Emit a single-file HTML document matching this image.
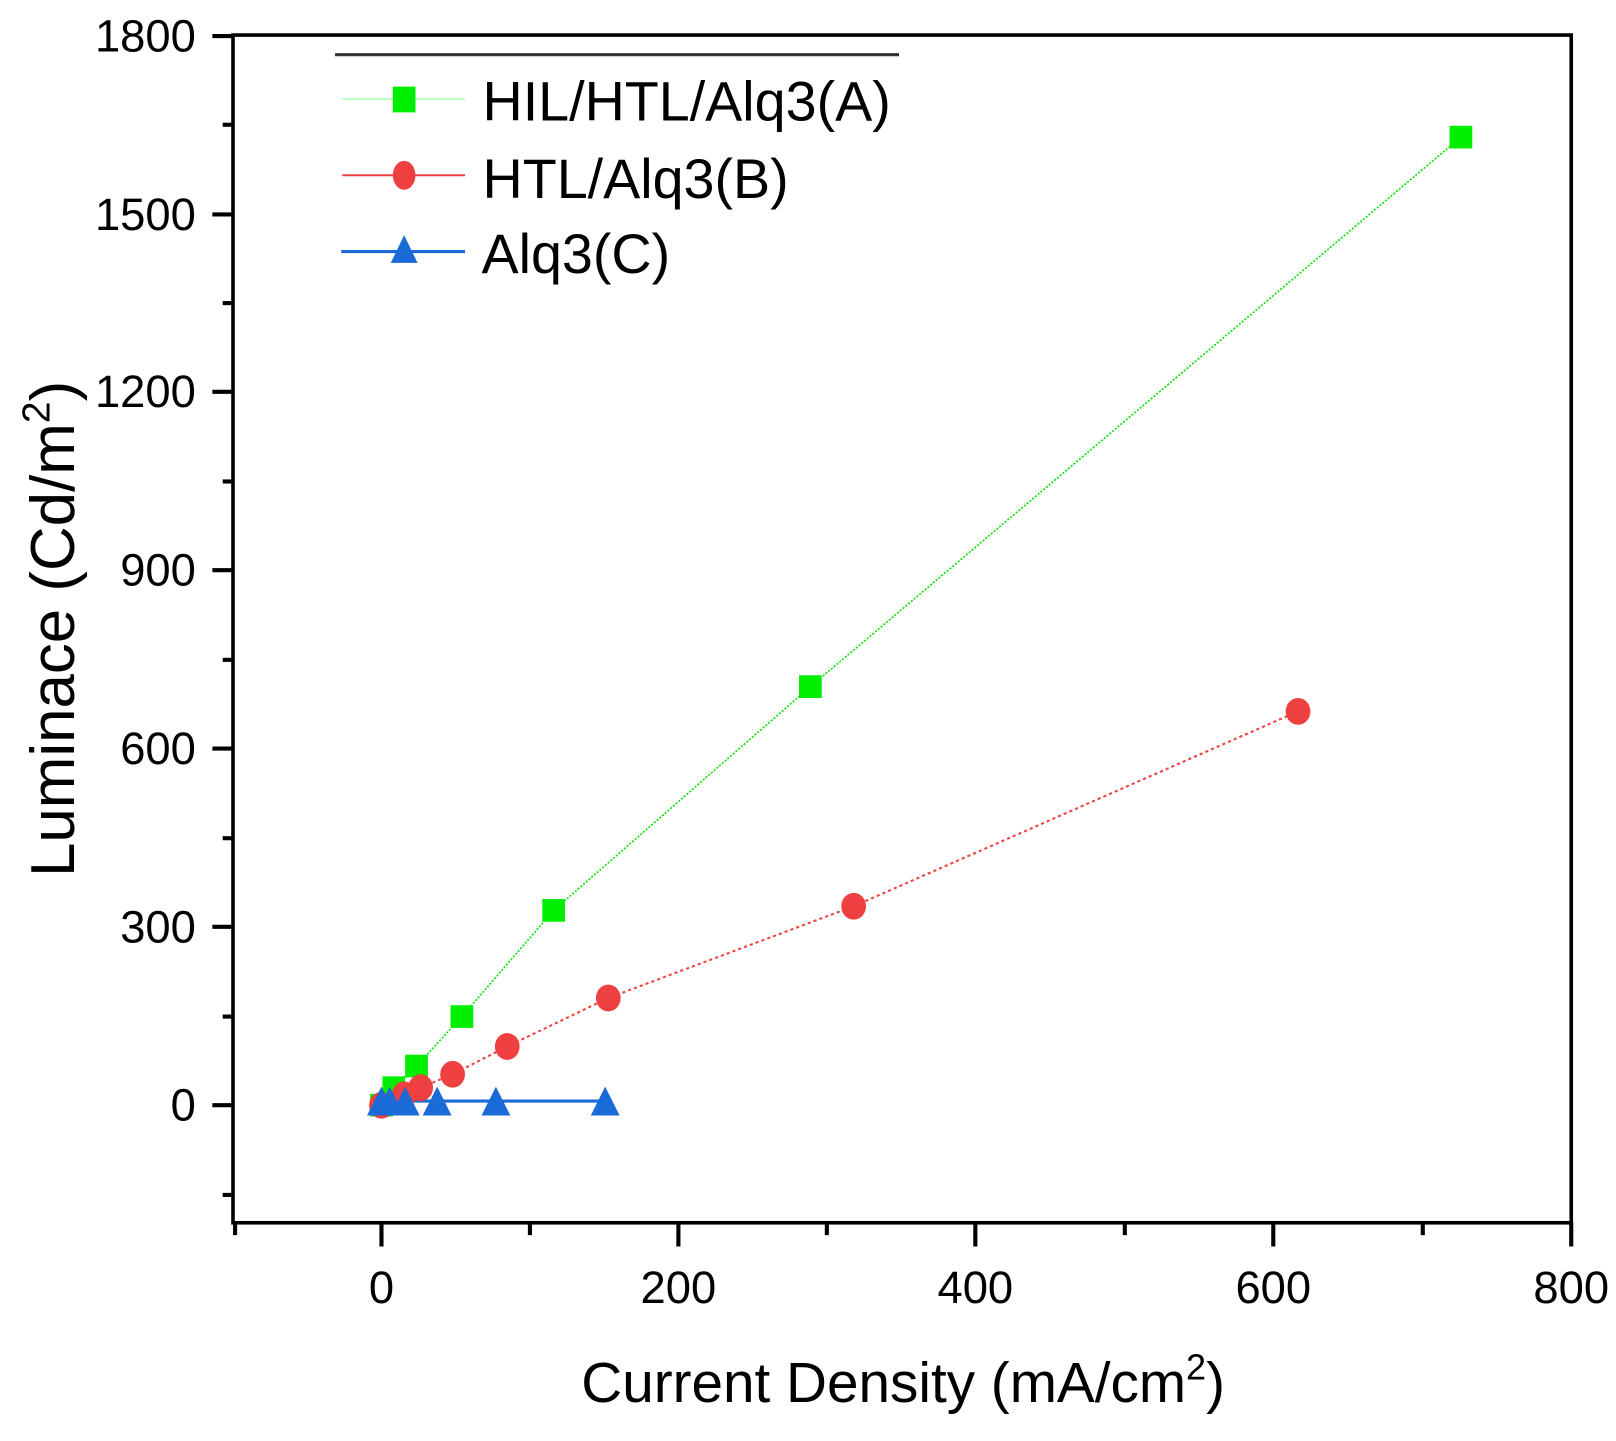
<!DOCTYPE html><html><head><style>body{margin:0;background:#fff}</style></head><body>
<svg width="1616" height="1436" xmlns="http://www.w3.org/2000/svg" font-family="Liberation Sans, sans-serif">
<rect width="1616" height="1436" fill="#fff"/>
<g transform="scale(1.031)">
<g stroke="#000" stroke-width="3.5" fill="none">
<rect x="226" y="34" width="1298" height="1152"/>
</g>
<g stroke="#000" stroke-width="4">
<line x1="206" y1="35" x2="226" y2="35"/><line x1="206" y1="208" x2="226" y2="208"/><line x1="206" y1="380" x2="226" y2="380"/><line x1="206" y1="553" x2="226" y2="553"/><line x1="206" y1="726" x2="226" y2="726"/><line x1="206" y1="899" x2="226" y2="899"/><line x1="206" y1="1072" x2="226" y2="1072"/>
<line x1="216" y1="121" x2="226" y2="121"/><line x1="216" y1="294" x2="226" y2="294"/><line x1="216" y1="467" x2="226" y2="467"/><line x1="216" y1="640" x2="226" y2="640"/><line x1="216" y1="813" x2="226" y2="813"/><line x1="216" y1="986" x2="226" y2="986"/><line x1="216" y1="1159" x2="226" y2="1159"/>
<line x1="370" y1="1186" x2="370" y2="1209"/><line x1="658" y1="1186" x2="658" y2="1209"/><line x1="946" y1="1186" x2="946" y2="1209"/><line x1="1235" y1="1186" x2="1235" y2="1209"/><line x1="1524" y1="1186" x2="1524" y2="1209"/>
<line x1="228" y1="1186" x2="228" y2="1198"/><line x1="514" y1="1186" x2="514" y2="1198"/><line x1="802" y1="1186" x2="802" y2="1198"/><line x1="1091" y1="1186" x2="1091" y2="1198"/><line x1="1380" y1="1186" x2="1380" y2="1198"/>
</g>
<g font-size="44" text-anchor="end" fill="#000">
<text x="190" y="50">1800</text><text x="190" y="223">1500</text><text x="190" y="395">1200</text><text x="190" y="568">900</text><text x="190" y="741">600</text><text x="190" y="914">300</text><text x="190" y="1087">0</text>
</g>
<g font-size="44" text-anchor="middle" fill="#000">
<text x="370" y="1264">0</text><text x="658" y="1264">200</text><text x="946" y="1264">400</text><text x="1235" y="1264">600</text><text x="1524" y="1264">800</text>
</g>
<text x="876" y="1360" font-size="55" text-anchor="middle">Current Density (mA/cm<tspan dy="-22" font-size="35">2</tspan><tspan dy="22">)</tspan></text>
<text transform="translate(72,610) rotate(-90)" font-size="60" text-anchor="middle">Luminace (Cd/m<tspan dy="-24" font-size="38">2</tspan><tspan dy="24">)</tspan></text>
<polyline points="370,1072 382,1055 404,1034 448,986 537,883 786,666 1417,133" fill="none" stroke="#00e000" stroke-width="1.5" stroke-dasharray="2,1.5"/>
<polyline points="370,1072 392,1062 408,1055 439,1042 492,1015 590,968 828,879 1259,690" fill="none" stroke="#f04040" stroke-width="2" stroke-dasharray="3,3"/>
<polyline points="370,1068 378,1068 393,1068 424,1068 481,1068 587,1068" fill="none" stroke="#1a6ad8" stroke-width="3"/>
<g fill="#00ee00">
<rect x="359" y="1061" width="22" height="22"/><rect x="371" y="1044" width="22" height="22"/><rect x="393" y="1023" width="22" height="22"/><rect x="437" y="975" width="22" height="22"/><rect x="526" y="872" width="22" height="22"/><rect x="775" y="655" width="22" height="22"/><rect x="1406" y="122" width="22" height="22"/>
</g>
<g fill="#ee4040">
<ellipse cx="370" cy="1072" rx="12" ry="13"/><ellipse cx="392" cy="1062" rx="12" ry="13"/><ellipse cx="408" cy="1055" rx="12" ry="13"/><ellipse cx="439" cy="1042" rx="12" ry="13"/><ellipse cx="492" cy="1015" rx="12" ry="13"/><ellipse cx="590" cy="968" rx="12" ry="13"/><ellipse cx="828" cy="879" rx="12" ry="13"/><ellipse cx="1259" cy="690" rx="12" ry="13"/>
</g>
<g fill="#1a6ad8">
<polygon points="370,1054 356,1082 384,1082"/><polygon points="378,1054 364,1082 392,1082"/><polygon points="393,1054 379,1082 407,1082"/><polygon points="424,1054 410,1082 438,1082"/><polygon points="481,1054 467,1082 495,1082"/><polygon points="587,1054 573,1082 601,1082"/>
</g>
<line x1="325" y1="53" x2="872" y2="53" stroke="#333" stroke-width="3"/>
<line x1="332" y1="96" x2="451" y2="96" stroke="#bfffbf" stroke-width="2"/>
<rect x="381" y="84" width="22" height="25" fill="#00ee00"/>
<line x1="332" y1="170" x2="451" y2="170" stroke="#ee4040" stroke-width="2"/>
<ellipse cx="392" cy="170" rx="11" ry="14" fill="#ee4040"/>
<line x1="331" y1="244" x2="451" y2="244" stroke="#1a6ad8" stroke-width="3"/>
<polygon points="392,228 379,255 405,255" fill="#1a6ad8"/>
<g font-size="54" fill="#000">
<text x="468" y="117">HIL/HTL/Alq3(A)</text><text x="468" y="192">HTL/Alq3(B)</text><text x="467" y="265">Alq3(C)</text>
</g>
</g>
</svg></body></html>
